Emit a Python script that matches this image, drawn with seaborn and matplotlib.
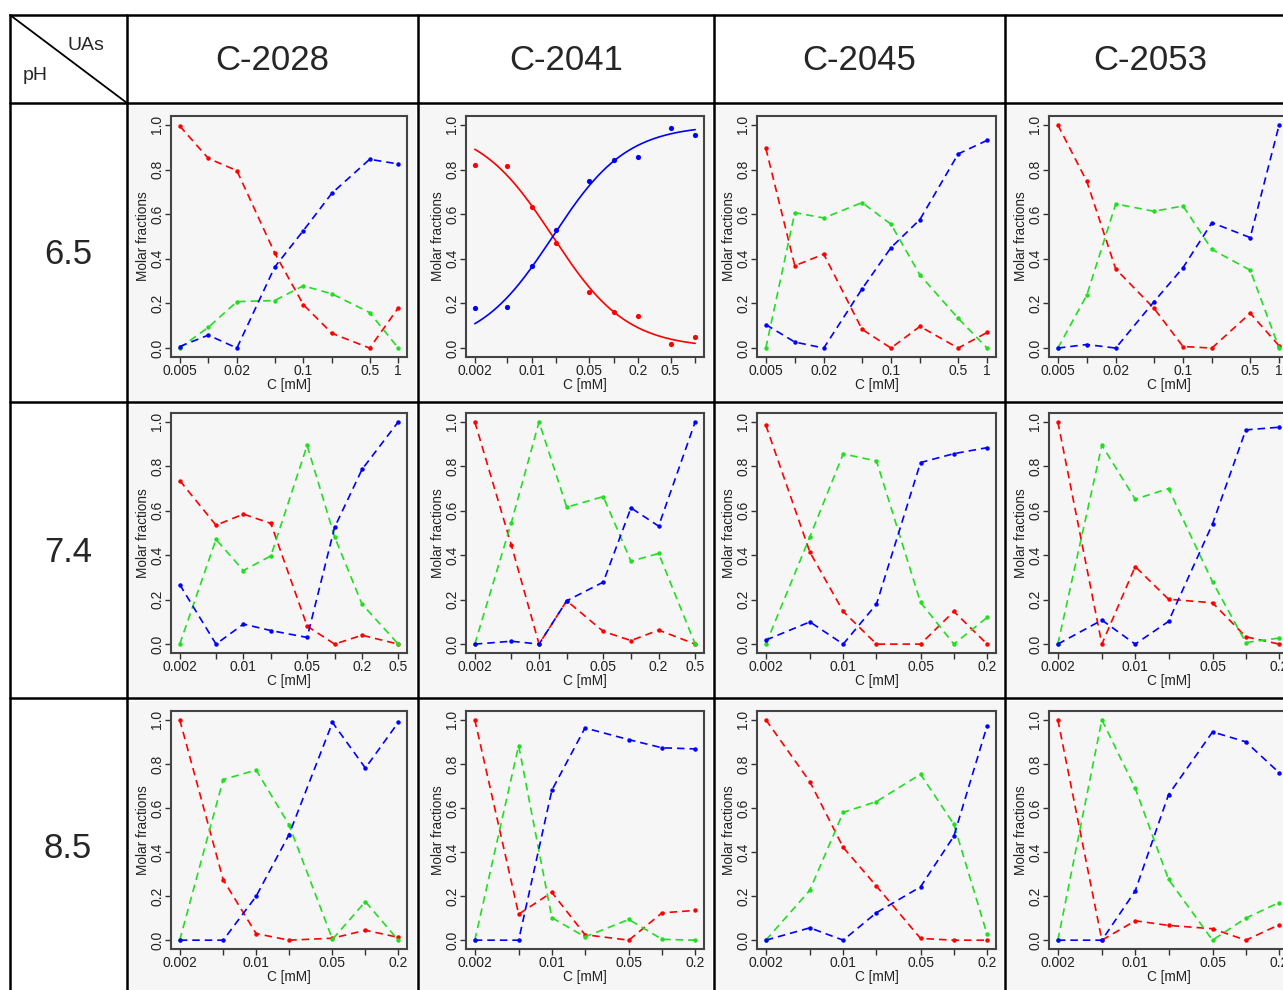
import numpy as np
import matplotlib
matplotlib.use("Agg")
import matplotlib.pyplot as plt
from matplotlib.lines import Line2D
from matplotlib.patches import Rectangle
import seaborn as sns

sns.set_style("white")
plt.rcParams['font.family'] = ['Liberation Sans', 'DejaVu Sans']

# ---------------- data ----------------
compounds = ["C-2028", "C-2041", "C-2045", "C-2053"]
ph_values = ["6.5", "7.4", "8.5"]

# concentration grids (mM)
x_005_1 = [0.005, 0.01, 0.02, 0.05, 0.1, 0.2, 0.5, 1]
x_002_1 = [0.002, 0.005, 0.01, 0.02, 0.05, 0.1, 0.2, 0.5, 1]
x_002_05 = [0.002, 0.005, 0.01, 0.02, 0.05, 0.1, 0.2, 0.5]
x_002_02 = [0.002, 0.005, 0.01, 0.02, 0.05, 0.1, 0.2]

# x tick labels (blank = tick without label)
lab_005_1 = ["0.005", "", "0.02", "", "0.1", "", "0.5", "1"]
lab_002_1 = ["0.002", "", "0.01", "", "0.05", "", "0.2", "0.5", ""]
lab_002_05 = ["0.002", "", "0.01", "", "0.05", "", "0.2", "0.5"]
lab_002_02 = ["0.002", "", "0.01", "", "0.05", "", "0.2"]

# pH 6.5
red_65_2028 = [0.995, 0.85, 0.795, 0.426, 0.195, 0.066, 0.0, 0.18]
green_65_2028 = [0.0, 0.093, 0.208, 0.213, 0.279, 0.243, 0.159, 0.0]
blue_65_2028 = [0.007, 0.058, 0.0, 0.363, 0.526, 0.694, 0.846, 0.825]

red_65_2041 = [0.822, 0.817, 0.63, 0.472, 0.253, 0.16, 0.145, 0.019, 0.048]
blue_65_2041 = [0.18, 0.186, 0.37, 0.531, 0.747, 0.843, 0.858, 0.984, 0.955]
fit_2041_midpoint = 0.018   # mM, crossing of fitted curves
fit_2041_slope = 2.2        # logistic slope per decade

red_65_2045 = [0.895, 0.369, 0.421, 0.084, 0.0, 0.097, 0.0, 0.07]
green_65_2045 = [0.0, 0.607, 0.583, 0.652, 0.555, 0.328, 0.133, 0.0]
blue_65_2045 = [0.105, 0.027, 0.0, 0.265, 0.45, 0.576, 0.87, 0.931]

red_65_2053 = [1.0, 0.747, 0.354, 0.178, 0.007, 0.0, 0.156, 0.01]
green_65_2053 = [0.0, 0.237, 0.646, 0.613, 0.637, 0.442, 0.349, 0.0]
blue_65_2053 = [0.0, 0.016, 0.0, 0.208, 0.36, 0.562, 0.495, 1.0]

# pH 7.4
red_74_2028 = [0.736, 0.535, 0.585, 0.543, 0.081, 0.0, 0.04, 0.0]
green_74_2028 = [0.0, 0.471, 0.331, 0.397, 0.894, 0.483, 0.18, 0.0]
blue_74_2028 = [0.268, 0.0, 0.09, 0.061, 0.03, 0.525, 0.786, 1.0]

red_74_2041 = [1.0, 0.445, 0.0, 0.195, 0.057, 0.016, 0.063, 0.0]
green_74_2041 = [0.0, 0.547, 1.0, 0.616, 0.664, 0.373, 0.408, 0.0]
blue_74_2041 = [0.0, 0.013, 0.0, 0.195, 0.279, 0.613, 0.531, 1.0]

red_74_2045 = [0.985, 0.414, 0.147, 0.0, 0.0, 0.147, 0.0]
green_74_2045 = [0.0, 0.483, 0.856, 0.824, 0.188, 0.0, 0.12]
blue_74_2045 = [0.018, 0.10, 0.0, 0.18, 0.817, 0.857, 0.884]

red_74_2053 = [1.0, 0.0, 0.349, 0.202, 0.186, 0.033, 0.0]
green_74_2053 = [0.0, 0.895, 0.652, 0.70, 0.28, 0.007, 0.027]
blue_74_2053 = [0.0, 0.108, 0.0, 0.102, 0.541, 0.964, 0.976]

# pH 8.5
red_85_2028 = [1.0, 0.274, 0.03, 0.0, 0.009, 0.045, 0.013]
green_85_2028 = [0.0, 0.729, 0.772, 0.524, 0.004, 0.175, 0.0]
blue_85_2028 = [0.0, 0.0, 0.199, 0.479, 0.988, 0.781, 0.988]

red_85_2041 = [1.0, 0.118, 0.217, 0.025, 0.0, 0.124, 0.135]
green_85_2041 = [0.0, 0.883, 0.102, 0.015, 0.094, 0.004, 0.0]
blue_85_2041 = [0.0, 0.0, 0.68, 0.963, 0.91, 0.873, 0.868]

red_85_2045 = [1.0, 0.719, 0.421, 0.245, 0.008, 0.0, 0.0]
green_85_2045 = [0.0, 0.227, 0.58, 0.629, 0.753, 0.526, 0.026]
blue_85_2045 = [0.0, 0.056, 0.0, 0.125, 0.242, 0.472, 0.973]

red_85_2053 = [1.0, 0.0, 0.088, 0.067, 0.052, 0.0, 0.07]
green_85_2053 = [0.0, 1.0, 0.69, 0.276, 0.0, 0.1, 0.171]
blue_85_2053 = [0.0, 0.0, 0.223, 0.66, 0.945, 0.9, 0.76]

panels = [
    [(x_005_1, lab_005_1, red_65_2028, green_65_2028, blue_65_2028),
     (x_002_1, lab_002_1, red_65_2041, None, blue_65_2041),
     (x_005_1, lab_005_1, red_65_2045, green_65_2045, blue_65_2045),
     (x_005_1, lab_005_1, red_65_2053, green_65_2053, blue_65_2053)],
    [(x_002_05, lab_002_05, red_74_2028, green_74_2028, blue_74_2028),
     (x_002_05, lab_002_05, red_74_2041, green_74_2041, blue_74_2041),
     (x_002_02, lab_002_02, red_74_2045, green_74_2045, blue_74_2045),
     (x_002_02, lab_002_02, red_74_2053, green_74_2053, blue_74_2053)],
    [(x_002_02, lab_002_02, red_85_2028, green_85_2028, blue_85_2028),
     (x_002_02, lab_002_02, red_85_2041, green_85_2041, blue_85_2041),
     (x_002_02, lab_002_02, red_85_2045, green_85_2045, blue_85_2045),
     (x_002_02, lab_002_02, red_85_2053, green_85_2053, blue_85_2053)],
]

RED, GREEN, BLUE = "#ff0000", "#22dd22", "#0000ff"

# ---------------- layout ----------------
W, H = 1283, 990
fig = plt.figure(figsize=(W / 100, H / 100), dpi=100)
fig.patch.set_facecolor("white")

def fx(px):
    return px / W

def fy(py):
    return 1 - py / H

col_edges = [10, 127, 418, 714, 1005, 1297]
row_edges = [15, 103, 402, 698, 994]
ax_left_off = [44, 48, 43, 44]
ax_right_off = [11, 10, 9, 9]
ax_top_off = [13, 11, 13]
ax_bot_off = [45, 45, 45]

# cell backgrounds for the plot images
for r in range(3):
    for c in range(4):
        x0, x1 = col_edges[c + 1], col_edges[c + 2]
        y0, y1 = row_edges[r + 1], row_edges[r + 2]
        fig.add_artist(Rectangle((fx(x0 + 2), fy(y1 - 1)), fx(x1 - x0 - 4), (y1 - y0 - 4) / H,
                                 transform=fig.transFigure, facecolor="#f6f6f6",
                                 edgecolor="none", zorder=0))

# table lines
lw_tab = 1.8
for yv in row_edges[:4]:
    fig.add_artist(Line2D([fx(col_edges[0]), 1.0], [fy(yv), fy(yv)], color="black", lw=lw_tab,
                          transform=fig.transFigure, zorder=5))
for xv in col_edges[:5]:
    fig.add_artist(Line2D([fx(xv), fx(xv)], [fy(row_edges[0]), 0.0], color="black", lw=lw_tab,
                          transform=fig.transFigure, zorder=5))
# diagonal in corner cell
fig.add_artist(Line2D([fx(10), fx(127)], [fy(15), fy(103)], color="black", lw=1.3,
                      transform=fig.transFigure, zorder=5))
fig.text(fx(86), fy(46), "UAs", fontsize=14, ha="center", va="center")
fig.text(fx(35), fy(76), "pH", fontsize=14, ha="center", va="center")

# headers
for c, name in enumerate(compounds):
    xc = (col_edges[c + 1] + col_edges[c + 2]) / 2
    if c == 3:
        xc = 1150
    fig.text(fx(xc), fy(61), name, fontsize=25, ha="center", va="center")
for r, ph in enumerate(ph_values):
    yc = (row_edges[r + 1] + row_edges[r + 2]) / 2 + 2
    fig.text(fx(68), fy(yc), ph, fontsize=25, ha="center", va="center")

# panels
for r in range(3):
    for c in range(4):
        xs, labs, red, green, blue = panels[r][c]
        x0 = col_edges[c + 1] + ax_left_off[c]
        x1 = col_edges[c + 2] - ax_right_off[c]
        y0 = row_edges[r + 1] + ax_top_off[r]
        y1 = row_edges[r + 2] - ax_bot_off[r]
        ax = fig.add_axes([fx(x0), fy(y1), fx(x1 - x0), (y1 - y0) / H])
        ax.set_facecolor("#f6f6f6")
        if green is None:
            # fitted logistic curves with data points
            sns.scatterplot(x=xs, y=red, ax=ax, color=RED, s=14, linewidth=0, zorder=3)
            sns.scatterplot(x=xs, y=blue, ax=ax, color=BLUE, s=14, linewidth=0, zorder=3)
            xf = np.logspace(np.log10(xs[0]), np.log10(xs[-1]), 200)
            bf = 1 / (1 + np.exp(-fit_2041_slope * (np.log10(xf) - np.log10(fit_2041_midpoint))))
            sns.lineplot(x=xf, y=1 - bf, ax=ax, color=RED, linewidth=1.2, sort=False)
            sns.lineplot(x=xf, y=bf, ax=ax, color=BLUE, linewidth=1.2, sort=False)
        else:
            for vals, col in ((red, RED), (green, GREEN), (blue, BLUE)):
                sns.lineplot(x=xs, y=vals, ax=ax, color=col, linewidth=1.2, sort=False,
                             linestyle=(0, (4.5, 3)), marker="o", markersize=3.2,
                             markeredgewidth=0)
        ax.set_xscale("log")
        lx0, lx1 = np.log10(xs[0]), np.log10(xs[-1])
        pad = 0.04 * (lx1 - lx0)
        ax.set_xlim(10 ** (lx0 - pad), 10 ** (lx1 + pad))
        ax.set_ylim(-0.04, 1.04)
        ax.xaxis.set_minor_locator(matplotlib.ticker.NullLocator())
        ax.set_xticks(xs)
        ax.set_xticklabels(labs)
        ax.set_yticks([0.0, 0.2, 0.4, 0.6, 0.8, 1.0])
        ax.set_yticklabels(["0.0", "0.2", "0.4", "0.6", "0.8", "1.0"])
        ax.tick_params(axis="both", direction="out", length=4.5, width=1, color="#333333",
                       labelsize=10, labelcolor="#222222", pad=0.3,
                       bottom=True, left=True)
        for lbl in ax.get_yticklabels():
            lbl.set_rotation(90)
            lbl.set_va("center")
            lbl.set_ha("right")
        for sp in ax.spines.values():
            sp.set_color("#444444")
            sp.set_linewidth(1.5)
        ax.set_xlabel("C [mM]", fontsize=9.8, color="#222222", labelpad=0.5)
        ax.set_ylabel("Molar fractions", fontsize=9.8, color="#222222", labelpad=0.5)

fig.savefig("out.png", dpi=100)
